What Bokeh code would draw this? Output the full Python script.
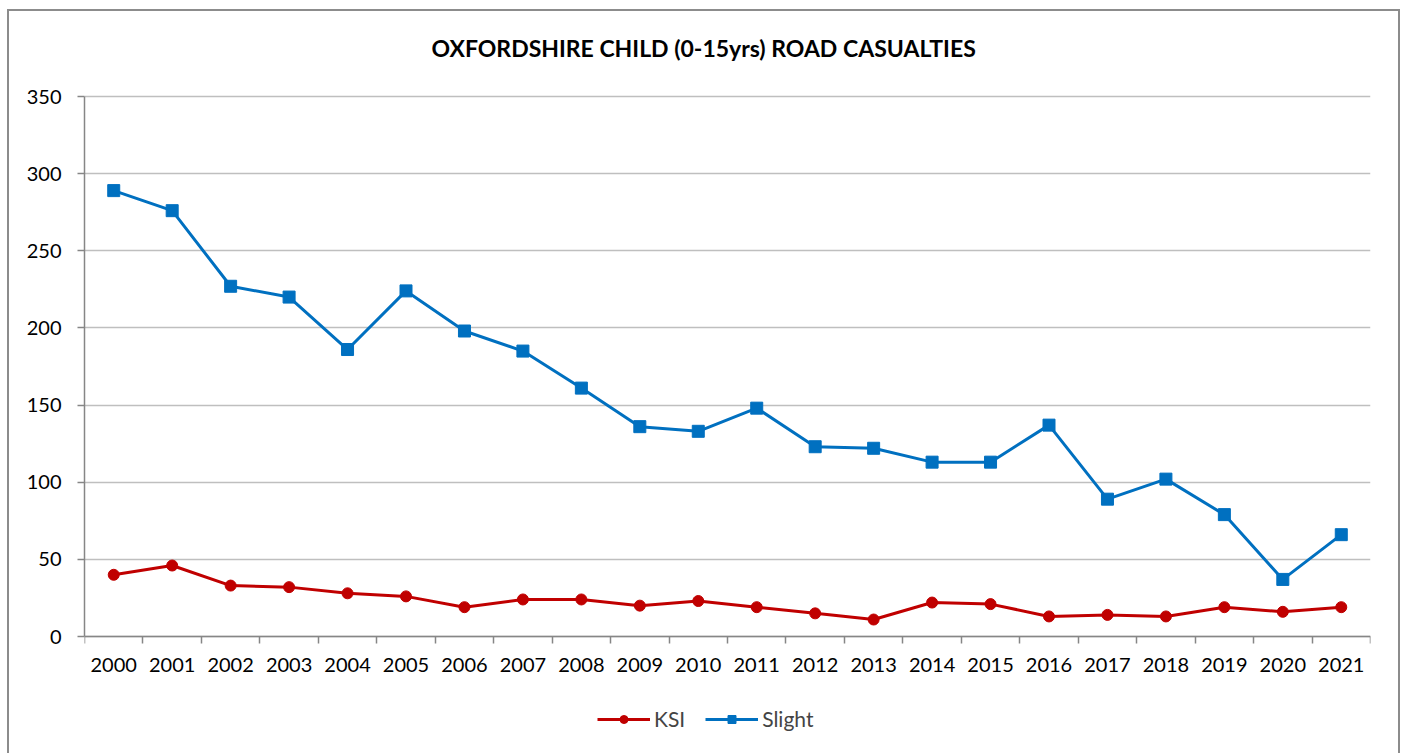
from bokeh.plotting import figure
from bokeh.models import (Range1d, FixedTicker, Legend, LegendItem)
from bokeh.embed import file_html
from bokeh.resources import INLINE

years = ["2000", "2001", "2002", "2003", "2004", "2005", "2006", "2007", "2008",
         "2009", "2010", "2011", "2012", "2013", "2014", "2015", "2016", "2017",
         "2018", "2019", "2020", "2021"]
ksi = [40, 46, 33, 32, 28, 26, 19, 24, 24, 20, 23, 19, 15, 11, 22, 21, 13, 14, 13, 19, 16, 19]
slight = [289, 276, 227, 220, 186, 224, 198, 185, 161, 136, 133, 148, 123, 122, 113, 113,
          137, 89, 102, 79, 37, 66]
y_ticks = [0, 50, 100, 150, 200, 250, 300, 350]

FONT = "Lato"
RED = "#C00000"
BLUE = "#0070C0"

# layout (pixels, canvas coordinates)
FIG_W, FIG_H = 1393, 744
FRAME_TOP, LEFT, RIGHT = 61, 77, 30
TOP_TICK_PX = 87        # where the top tick (350) sits
PLOT_H = 540            # pixels between 0 and the top tick
Y_MAX = 350
upp = Y_MAX / PLOT_H    # data units per pixel
y_hi = Y_MAX + (TOP_TICK_PX - FRAME_TOP) * upp
y_lo = -(FIG_H - TOP_TICK_PX - PLOT_H) * upp

xs = list(range(len(years)))

p = figure(width=FIG_W, height=FIG_H, output_backend="svg", toolbar_location=None,
           x_range=Range1d(-0.5, len(years) - 0.5), y_range=Range1d(y_lo, y_hi),
           min_border_left=LEFT, min_border_right=RIGHT, min_border_top=FRAME_TOP,
           min_border_bottom=0)
p.styles = {"margin-left": "7px", "margin-top": "9px", "background-color": "white",
            "box-shadow": "inset 2px 2px 0 #8c8c8c, inset -2px 0 0 #8c8c8c"}
p.border_fill_color = None
p.background_fill_color = None

p.title.text = "OXFORDSHIRE CHILD (0-15yrs) ROAD CASUALTIES"
p.title.text_font = FONT
p.title.text_font_size = "23px"
p.title.text_font_style = "bold"
p.title.text_color = "#000000"
p.title.align = "left"
p.title.offset = 347
p.title.standoff = 18

p.outline_line_color = None
p.xgrid.grid_line_color = None
p.ygrid.grid_line_color = "#BFBFBF"
p.ygrid.grid_line_width = 1.5

xa = p.xaxis[0]
xa.fixed_location = 0
xa.ticker = FixedTicker(ticks=xs, minor_ticks=[i - 0.5 for i in range(len(years) + 1)])
xa.major_label_overrides = {i: y for i, y in zip(xs, years)}
xa.major_tick_out = 0
xa.major_tick_in = 0
xa.minor_tick_out = 7
xa.minor_tick_in = 0
xa.minor_tick_line_color = "#868686"
xa.minor_tick_line_width = 1.5
xa.axis_line_color = "#868686"
xa.axis_line_width = 1.5
xa.major_label_text_font = FONT
xa.major_label_text_font_size = "20px"
xa.major_label_text_color = "#000000"
xa.major_label_standoff = 14

ya = p.yaxis[0]
ya.bounds = (0, Y_MAX)
ya.ticker = FixedTicker(ticks=y_ticks, minor_ticks=[])
ya.major_tick_out = 7
ya.major_tick_in = 0
ya.major_tick_line_color = "#868686"
ya.major_tick_line_width = 1.5
ya.axis_line_color = "#868686"
ya.axis_line_width = 1.5
ya.major_label_text_font = FONT
ya.major_label_text_font_size = "20px"
ya.major_label_text_color = "#000000"
ya.major_label_standoff = 16

l1 = p.line(xs, ksi, line_color=RED, line_width=3)
s1 = p.scatter(xs, ksi, marker="circle", size=11, fill_color=RED, line_color=RED)
l2 = p.line(xs, slight, line_color=BLUE, line_width=3)
s2 = p.scatter(xs, slight, marker="square", size=12, fill_color=BLUE, line_color=BLUE)

legend = Legend(items=[LegendItem(label="KSI", renderers=[l1, s1]),
                       LegendItem(label="Slight", renderers=[l2, s2])],
                orientation="horizontal", location=(513, 22),
                glyph_width=53, glyph_height=20, label_standoff=4, spacing=20,
                padding=5, margin=0, border_line_color=None, background_fill_alpha=0,
                label_text_font=FONT, label_text_font_size="21px")
p.add_layout(legend, "center")

open("out.html", "w").write(file_html(p, INLINE))
